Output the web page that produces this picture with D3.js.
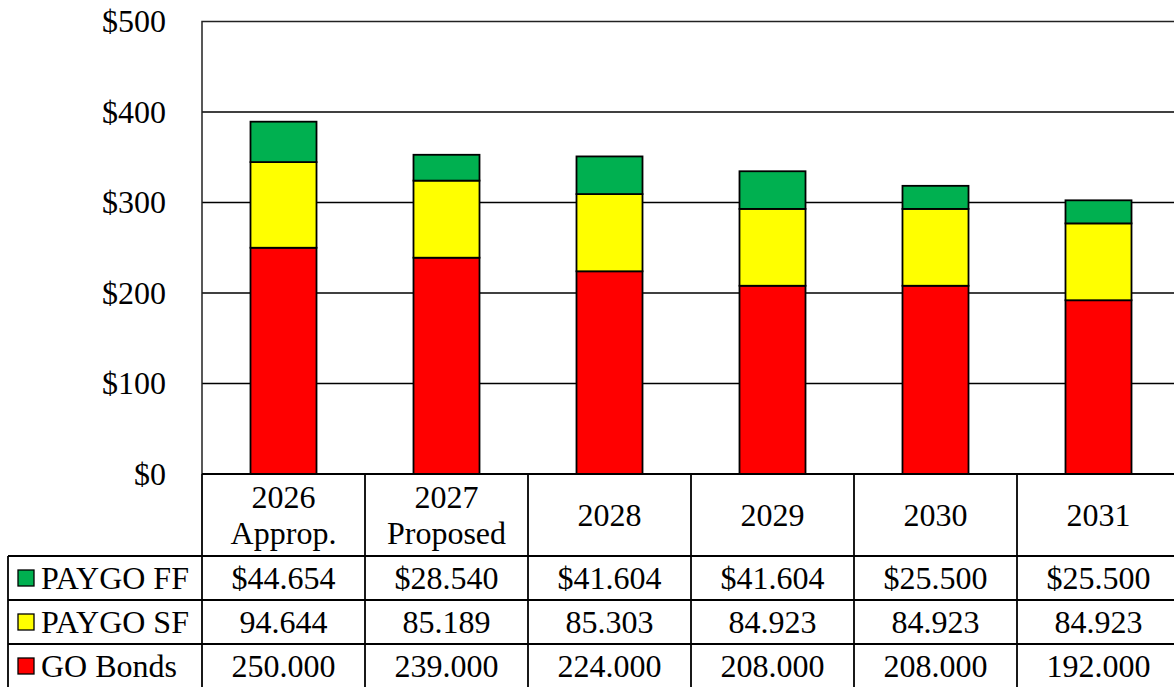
<!DOCTYPE html>
<html>
<head>
<meta charset="utf-8">
<script src="https://cdn.jsdelivr.net/npm/d3@7"></script>
<style>
  body { margin: 0; background: #fff; overflow: hidden; }
  text { font-family: "Liberation Serif", "Times New Roman", serif; fill: #000; }
</style>
</head>
<body>
<div id="viz"></div>
<script>
var categories = [["2026", "Approp."], ["2027", "Proposed"], ["2028"], ["2029"], ["2030"], ["2031"]];
var goBonds = [250.000, 239.000, 224.000, 208.000, 208.000, 192.000];
var paygoSF = [94.644, 85.189, 85.303, 84.923, 84.923, 84.923];
var paygoFF = [44.654, 28.540, 41.604, 41.604, 25.500, 25.500];
var seriesNames = ["PAYGO FF", "PAYGO SF", "GO Bonds"];
var seriesColors = ["#00B050", "#FFFF00", "#FF0000"];
var ffLabels = ["$44.654", "$28.540", "$41.604", "$41.604", "$25.500", "$25.500"];
var sfLabels = ["94.644", "85.189", "85.303", "84.923", "84.923", "84.923"];
var goLabels = ["250.000", "239.000", "224.000", "208.000", "208.000", "192.000"];
var yTicks = [0, 100, 200, 300, 400, 500];

var width = 1174, height = 687;
var plotLeft = 202, plotRight = 1180, plotTop = 21.5, plotBottom = 474;
var rowH = 44, headH = 82, tableLeft = 8;
var fs = 32;

var svg = d3.select("#viz").append("svg")
    .attr("width", width)
    .attr("height", height);

var keys = categories.map(function(c){ return c.join(" "); });
var x = d3.scaleBand().domain(keys).range([plotLeft, plotRight]);
var y = d3.scaleLinear().domain([0, 500]).range([plotBottom, plotTop]);

// gridlines
svg.append("g").selectAll("line")
    .data(yTicks.filter(function(t){ return t > 0 && t < 500; }))
    .enter().append("line")
    .attr("x1", plotLeft).attr("x2", plotRight)
    .attr("y1", function(d){ return y(d); }).attr("y2", function(d){ return y(d); })
    .attr("stroke", "#000").attr("stroke-width", 1.5);

// plot border (top + left)
svg.append("path")
    .attr("d", "M" + plotLeft + "," + plotBottom + "V" + y(500) + "H" + plotRight)
    .attr("fill", "none").attr("stroke", "#222").attr("stroke-width", 1.5);

// y labels
svg.append("g").selectAll("text")
    .data(yTicks)
    .enter().append("text")
    .attr("x", 166)
    .attr("y", function(d){ return y(d); })
    .attr("dy", "0.33em")
    .attr("text-anchor", "end")
    .style("font-size", fs + "px")
    .text(function(d){ return "$" + d; });

// stacked bars
var rows = keys.map(function(k, i){
  return { key: k, go: goBonds[i], sf: paygoSF[i], ff: paygoFF[i] };
});
var stack = d3.stack().keys(["go", "sf", "ff"]);
var layers = stack(rows);
var layerColor = { go: "#FF0000", sf: "#FFFF00", ff: "#00B050" };
var bw = x.bandwidth() * 0.405;

svg.append("g").selectAll("g")
    .data(layers)
    .enter().append("g")
    .attr("fill", function(d){ return layerColor[d.key]; })
    .selectAll("rect")
    .data(function(d){ return d; })
    .enter().append("rect")
    .attr("x", function(d){ return x(d.data.key) + (x.bandwidth() - bw) / 2; })
    .attr("width", bw)
    .attr("y", function(d){ return y(d[1]); })
    .attr("height", function(d){ return y(d[0]) - y(d[1]); })
    .attr("stroke", "#000").attr("stroke-width", 1.8);

// data table
var tableTop = plotBottom;
var bodyTop = tableTop + headH;
var tableBottom = bodyTop + rowH * 3;
var t = svg.append("g").attr("stroke", "#000").attr("stroke-width", 1.8);

// horizontal lines
t.append("line").attr("x1", plotLeft).attr("x2", plotRight).attr("y1", tableTop).attr("y2", tableTop);
[0, 1, 2, 3].forEach(function(r){
  t.append("line").attr("x1", tableLeft).attr("x2", plotRight)
    .attr("y1", bodyTop + r * rowH).attr("y2", bodyTop + r * rowH);
});
// vertical lines
t.append("line").attr("x1", tableLeft).attr("x2", tableLeft).attr("y1", bodyTop).attr("y2", tableBottom);
keys.forEach(function(k){
  t.append("line").attr("x1", x(k)).attr("x2", x(k)).attr("y1", tableTop).attr("y2", tableBottom);
});
t.append("line").attr("x1", plotRight).attr("x2", plotRight).attr("y1", tableTop).attr("y2", tableBottom);

// header labels
categories.forEach(function(c, i){
  var cx = x(keys[i]) + x.bandwidth() / 2;
  var cy = tableTop + headH / 2;
  c.forEach(function(line, j){
    svg.append("text")
      .attr("x", cx)
      .attr("y", cy + (j - (c.length - 1) / 2) * 36)
      .attr("dy", "0.33em")
      .attr("text-anchor", "middle")
      .style("font-size", fs + "px")
      .text(line);
  });
});

// body rows
var rowLabels = [ffLabels, sfLabels, goLabels];
seriesNames.forEach(function(name, r){
  var cy = bodyTop + r * rowH + rowH / 2;
  svg.append("rect")
    .attr("x", 18).attr("y", cy - 8)
    .attr("width", 16).attr("height", 16)
    .attr("fill", seriesColors[r])
    .attr("stroke", "#000").attr("stroke-width", 1.3);
  svg.append("text")
    .attr("x", 41).attr("y", cy)
    .attr("dy", "0.33em")
    .style("font-size", fs + "px")
    .text(name);
  rowLabels[r].forEach(function(v, i){
    svg.append("text")
      .attr("x", x(keys[i]) + x.bandwidth() / 2)
      .attr("y", cy)
      .attr("dy", "0.33em")
      .attr("text-anchor", "middle")
      .style("font-size", fs + "px")
      .text(v);
  });
});
</script>
</body>
</html>
